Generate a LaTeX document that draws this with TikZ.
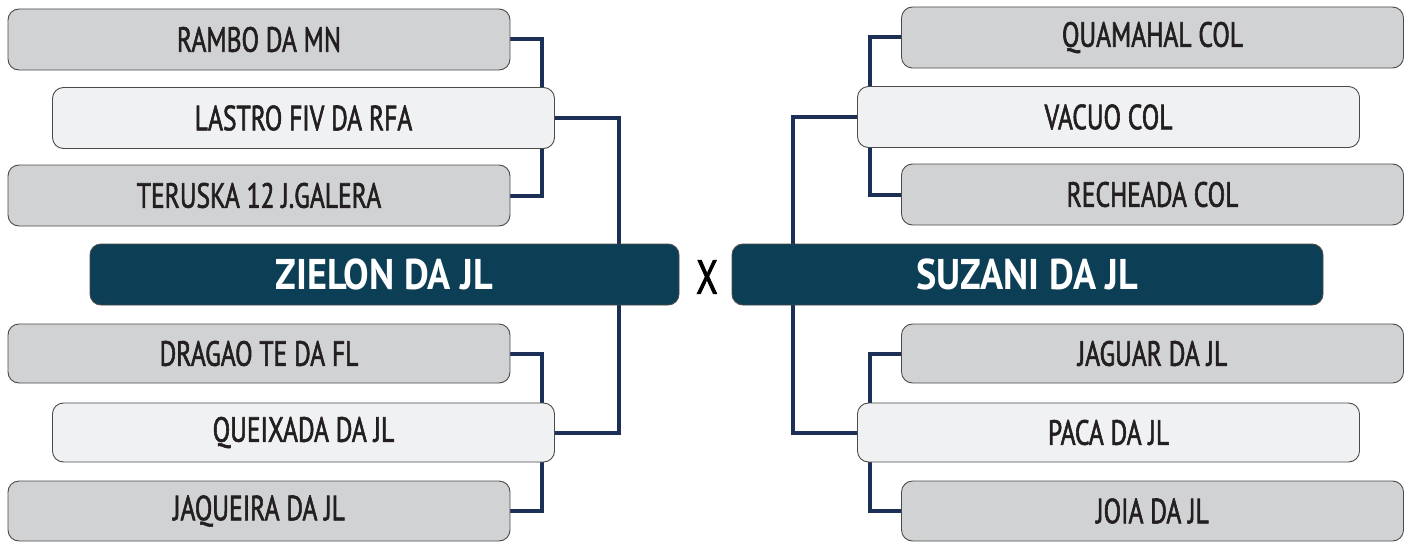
\documentclass[tikz,border=0pt]{standalone}
\usepackage{fontspec}
\setmainfont{PT Sans}[FakeStretch=0.82]
\newfontfamily\regf{PT Sans}[FakeStretch=0.73, FakeBold=1.6]
\newfontfamily\boldf{PT Sans}[FakeStretch=0.89]
\usetikzlibrary{backgrounds}
\definecolor{linkc}{HTML}{1B2F57}
\definecolor{boxgray}{HTML}{D1D2D4}
\definecolor{boxlight}{HTML}{F0F1F3}
\definecolor{boxdark}{HTML}{0C3F56}
\definecolor{edgec}{HTML}{4A4A4A}
\definecolor{txt}{HTML}{231F20}
\begin{document}
\begin{tikzpicture}[x=1pt,y=-1pt,
  base/.style={draw=edgec, line width=0.9pt, rounded corners=11pt, inner sep=0pt, outer sep=0pt,
    minimum width=502pt, minimum height=61pt, text=txt, font=\regf\fontsize{35}{38}\selectfont},
  gbox/.style={base, fill=boxgray},
  lbox/.style={base, fill=boxlight},
  dbox/.style={base, fill=boxdark, minimum width=589pt, text=white, font=\boldf\fontsize{43}{46}\selectfont\bfseries},
  link/.style={draw=linkc, line width=4pt}]
\useasboundingbox (0,0) rectangle (1412,543);
% left
\node[gbox] (rambo) at (259,39.5) {RAMBO DA MN};
\node[lbox] (lastro) at (303.5,118) {LASTRO FIV DA RFA};
\node[gbox] (teruska) at (259,195.5) {TERUSKA 12 J.GALERA};
\node[dbox] (zielon) at (384.5,274.5) {ZIELON DA JL};
\node[gbox, minimum height=59pt] (dragao) at (259,353.5) {DRAGAO TE DA FL};
\node[lbox, minimum height=59pt] (queixada) at (303.5,432.5) {QUEIXADA DA JL};
\node[gbox, minimum height=60pt] (jaqueira) at (259,511) {JAQUEIRA DA JL};
% right
\node[gbox] (quamahal) at (1152.5,37.5) {QUAMAHAL COL};
\node[lbox] (vacuo) at (1108.5,117) {VACUO COL};
\node[gbox] (recheada) at (1152.5,194.5) {RECHEADA COL};
\node[dbox, minimum width=591pt] (suzani) at (1027.5,274.5) {SUZANI DA JL};
\node[gbox, minimum height=59pt] (jaguar) at (1152.5,353.5) {JAGUAR DA JL};
\node[lbox, minimum height=59pt] (paca) at (1108.5,432.5) {PACA DA JL};
\node[gbox, minimum height=60pt] (joia) at (1152.5,511) {JOIA DA JL};
\node[text=black, font=\regf\fontsize{48}{50}\selectfont] (vs) at (707,277) {X};
\begin{scope}[on background layer]
\draw[link] (rambo.east) -| ([xshift=-13pt]lastro.north east);
\draw[link] (teruska.east) -| ([xshift=-13pt]lastro.south east);
\draw[link] (lastro.east) -| ([xshift=-60pt]zielon.north east);
\draw[link] (queixada.east) -| ([xshift=-60pt]zielon.south east);
\draw[link] (dragao.east) -| ([xshift=-13pt]queixada.north east);
\draw[link] (jaqueira.east) -| ([xshift=-13pt]queixada.south east);
\draw[link] (quamahal.west) -| ([xshift=12pt]vacuo.north west);
\draw[link] (recheada.west) -| ([xshift=12pt]vacuo.south west);
\draw[link] (vacuo.west) -| ([xshift=61pt]suzani.north west);
\draw[link] (paca.west) -| ([xshift=61pt]suzani.south west);
\draw[link] (jaguar.west) -| ([xshift=12pt]paca.north west);
\draw[link] (joia.west) -| ([xshift=12pt]paca.south west);
\end{scope}
\end{tikzpicture}
\end{document}
